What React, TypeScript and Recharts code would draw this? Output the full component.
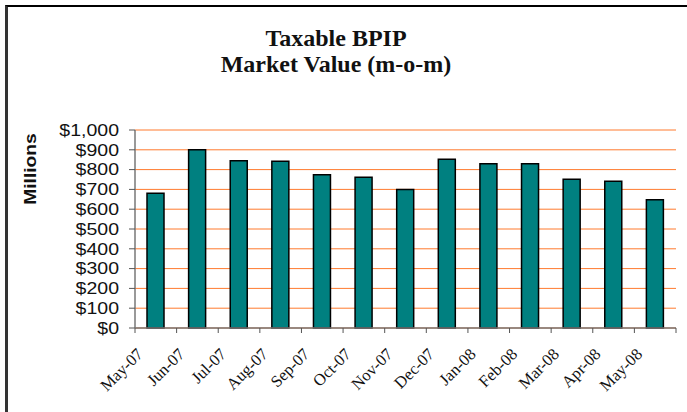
import { BarChart, Bar, XAxis, YAxis, CartesianGrid } from 'recharts';

const months = [
  'May-07', 'Jun-07', 'Jul-07', 'Aug-07', 'Sep-07', 'Oct-07', 'Nov-07',
  'Dec-07', 'Jan-08', 'Feb-08', 'Mar-08', 'Apr-08', 'May-08',
];
const marketValue = [680, 900, 845, 842, 774, 761, 700, 852, 830, 830, 751, 741, 648];
const yTicks = [0, 100, 200, 300, 400, 500, 600, 700, 800, 900, 1000];

const data = months.map((month, i) => ({ month, value: marketValue[i] }));

const fmtDollar = (v: number) => `$${v.toLocaleString('en-US')}`;

function MonthTick(props: any) {
  const { x, y, payload, index } = props;
  const half = payload?.offset ?? 0;
  const isLast = index === months.length - 1;
  const ax = x - 16;
  const ay = y + 15;
  return (
    <g>
      <line x1={x - half} y1={y - 8} x2={x - half} y2={y - 3} stroke="#555" />
      {isLast && <line x1={x + half} y1={y - 8} x2={x + half} y2={y - 3} stroke="#555" />}
      <text
        x={ax}
        y={ay}
        transform={`rotate(-45, ${ax}, ${ay})`}
        textAnchor="end"
        dy="0.35em"
        fontFamily="'Liberation Serif', serif"
        fontSize={16.5}
        fill="#111"
      >
        {payload.value}
      </text>
    </g>
  );
}

function DollarTick(props: any) {
  const { x, y, payload } = props;
  return (
    <text
      transform={`translate(${x - 8}, ${y}) scale(1.22, 1)`}
      textAnchor="end"
      dy="0.36em"
      fontFamily="'Liberation Sans', Arial, sans-serif"
      fontSize={16}
      fill="#111"
    >
      {fmtDollar(payload.value)}
    </text>
  );
}

export default function App() {
  return (
    <div style={{ position: 'absolute', left: 0, top: 0, width: 687, height: 412, background: '#fff' }}>
      <div
        style={{
          position: 'absolute', left: 5, top: 5, width: 682, height: 407,
          borderLeft: '3px solid #333', borderTop: '2px solid #000', boxSizing: 'border-box',
        }}
      />
      <div
        style={{
          position: 'absolute', left: 0, width: 672, top: 25, textAlign: 'center',
          fontFamily: "'Liberation Serif', serif", fontWeight: 'bold', fontSize: 24,
          lineHeight: '26px', color: '#111',
        }}
      >
        Taxable BPIP
        <br />
        Market Value (m-o-m)
      </div>
      <div
        style={{
          position: 'absolute', left: 31, top: 169, transform: 'translate(-50%, -50%) rotate(-90deg) scale(1.2, 1)',
          fontFamily: "'Liberation Sans', Arial, sans-serif", fontWeight: 'bold', fontSize: 16, color: '#111',
          whiteSpace: 'nowrap',
        }}
      >
        Millions
      </div>
      <div style={{ position: 'absolute', left: 0, top: 0 }}>
        <BarChart
          width={687}
          height={412}
          data={data}
          margin={{ top: 130, right: 11, left: 55, bottom: 24 }}
          barSize={17}
        >
          <CartesianGrid vertical={false} stroke="#FF7A2E" strokeWidth={1} horizontalValues={yTicks} />
          <XAxis
            dataKey="month"
            interval={0}
            height={60}
            tickLine={false}
            axisLine={{ stroke: '#777', strokeWidth: 1.5 }}
            tick={<MonthTick />}
          />
          <YAxis
            width={80}
            domain={[0, 1000]}
            ticks={yTicks}
            interval={0}
            tickSize={6}
            tickLine={{ stroke: '#555' }}
            axisLine={{ stroke: '#777', strokeWidth: 1.5 }}
            tick={<DollarTick />}
          />
          <Bar dataKey="value" fill="#008080" stroke="#000" strokeWidth={1.5} isAnimationActive={false} />
        </BarChart>
      </div>
    </div>
  );
}
